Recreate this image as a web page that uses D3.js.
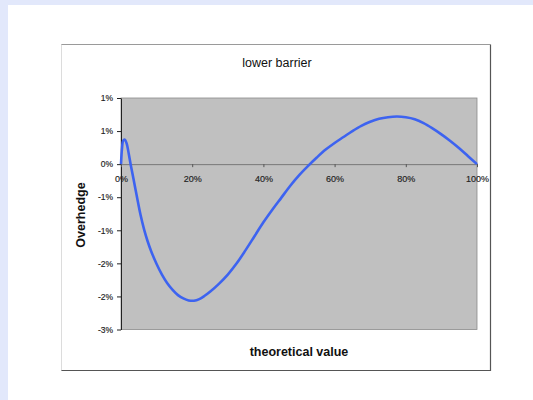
<!DOCTYPE html>
<html><head><meta charset="utf-8">
<script src="https://cdn.jsdelivr.net/npm/d3@7"></script>
<style>
html,body{margin:0;padding:0;background:#e2e8fb;}
svg{display:block;}
</style></head>
<body>
<svg id="c" width="533" height="400"></svg>
<script>
// theoretical value (fraction) and overhedge (%)
const theoreticalValue = [0, 0.003, 0.006, 0.011, 0.016, 0.022, 0.027, 0.035, 0.045, 0.055, 0.065, 0.075, 0.085, 0.10, 0.115, 0.13, 0.145, 0.16, 0.175, 0.19, 0.205, 0.22, 0.235, 0.25, 0.275, 0.30, 0.325, 0.35, 0.375, 0.40, 0.425, 0.45, 0.475, 0.50, 0.525, 0.55, 0.575, 0.60, 0.625, 0.65, 0.675, 0.70, 0.725, 0.75, 0.775, 0.80, 0.825, 0.85, 0.875, 0.90, 0.925, 0.95, 0.975, 1.0];
const overhedge = [0, 0.25, 0.355, 0.37, 0.31, 0.15, 0, -0.22, -0.50, -0.77, -0.99, -1.17, -1.32, -1.51, -1.67, -1.80, -1.90, -1.98, -2.03, -2.06, -2.065, -2.04, -1.99, -1.93, -1.81, -1.67, -1.50, -1.30, -1.09, -0.88, -0.69, -0.51, -0.33, -0.17, -0.03, 0.10, 0.22, 0.32, 0.41, 0.50, 0.58, 0.64, 0.685, 0.71, 0.72, 0.71, 0.68, 0.62, 0.54, 0.45, 0.35, 0.24, 0.12, 0];
const xTicks = [0, 0.2, 0.4, 0.6, 0.8, 1.0];
const xTickLabels = ["0%", "20%", "40%", "60%", "80%", "100%"];
const yTicks = [1.0, 0.5, 0, -0.5, -1.0, -1.5, -2.0, -2.5];
const yTickLabels = ["1%", "1%", "0%", "-1%", "-1%", "-2%", "-2%", "-3%"];
const chartTitle = "lower barrier";
const xTitle = "theoretical value";
const yTitle = "Overhedge";

const svg = d3.select("#c");
const font = "'Liberation Sans', Arial, sans-serif";

// white page region
svg.append("rect").attr("x", 8).attr("y", 5).attr("width", 525).attr("height", 395).attr("fill", "#fff");

// chart frame
const fx0 = 61.5, fy0 = 44.5, fx1 = 490.5, fy1 = 370.5;
svg.append("rect").attr("x", fx0).attr("y", fy0).attr("width", fx1 - fx0).attr("height", fy1 - fy0)
  .attr("fill", "#fff").attr("stroke", "#dcdcdc");
svg.append("path").attr("d", `M${fx1},${fy0}V${fy1}H${fx0}`).attr("fill", "none").attr("stroke", "#555").attr("stroke-width", 1.2);
svg.append("path").attr("d", `M${fx0},${fy0}H${fx1}`).attr("fill", "none").attr("stroke", "#9a9a9a");

const L = 121, R = 477, T = 98, B = 329.5;
const x = d3.scaleLinear().domain([0, 1]).range([L, R]);
const y = d3.scaleLinear().domain([-2.5, 1.0]).range([B, T]);

svg.append("rect").attr("x", L).attr("y", T).attr("width", R - L).attr("height", B - T)
  .attr("fill", "#c0c0c0").attr("stroke", "#8a8a8a").attr("stroke-width", 0.8);

// y axis
const yAxis = d3.axisLeft(y).tickValues(yTicks).tickSize(4).tickSizeOuter(0)
  .tickFormat((d, i) => yTickLabels[i]);
const gy = svg.append("g").attr("transform", `translate(${L},0)`).call(yAxis);
gy.select(".domain").attr("stroke", "#222");
gy.selectAll(".tick line").attr("stroke", "#222");
gy.selectAll(".tick text").attr("font-family", font).attr("font-size", 8.5)
  .attr("fill", "#222").attr("x", -8).attr("stroke", "#222").attr("stroke-width", 0.15);

// x axis at zero
const xAxis = d3.axisBottom(x).tickValues(xTicks).tickSize(3).tickSizeOuter(0)
  .tickFormat((d, i) => xTickLabels[i]);
const gx = svg.append("g").attr("transform", `translate(0,${y(0)})`).call(xAxis);
gx.select(".domain").attr("stroke", "#777").attr("stroke-width", 1);
gx.selectAll(".tick line").attr("stroke", "#555");
gx.selectAll(".tick text").attr("font-family", font).attr("font-size", 9)
  .attr("fill", "#222").attr("dy", "0.71em").attr("y", 11).attr("stroke", "#222").attr("stroke-width", 0.15);

// curve
const pts = theoreticalValue.map((v, i) => [v, overhedge[i]]);
svg.append("path").datum(pts)
  .attr("d", d3.line().x(d => x(d[0])).y(d => y(d[1])).curve(d3.curveCatmullRom.alpha(0.5)))
  .attr("fill", "none").attr("stroke", "#3d63f0").attr("stroke-width", 2.6).attr("stroke-linejoin", "round");

// titles
svg.append("text").attr("x", 277).attr("y", 66.5).attr("text-anchor", "middle")
  .attr("font-family", font).attr("font-size", 12.5).attr("fill", "#111").text(chartTitle);
svg.append("text").attr("x", 299).attr("y", 355.5).attr("text-anchor", "middle")
  .attr("font-family", font).attr("font-size", 12.5).attr("font-weight", "bold").attr("fill", "#111").text(xTitle);
svg.append("text").attr("transform", `translate(85,215) rotate(-90)`).attr("text-anchor", "middle")
  .attr("font-family", font).attr("font-size", 12.5).attr("font-weight", "bold").attr("fill", "#111").text(yTitle);
</script>
</body></html>
